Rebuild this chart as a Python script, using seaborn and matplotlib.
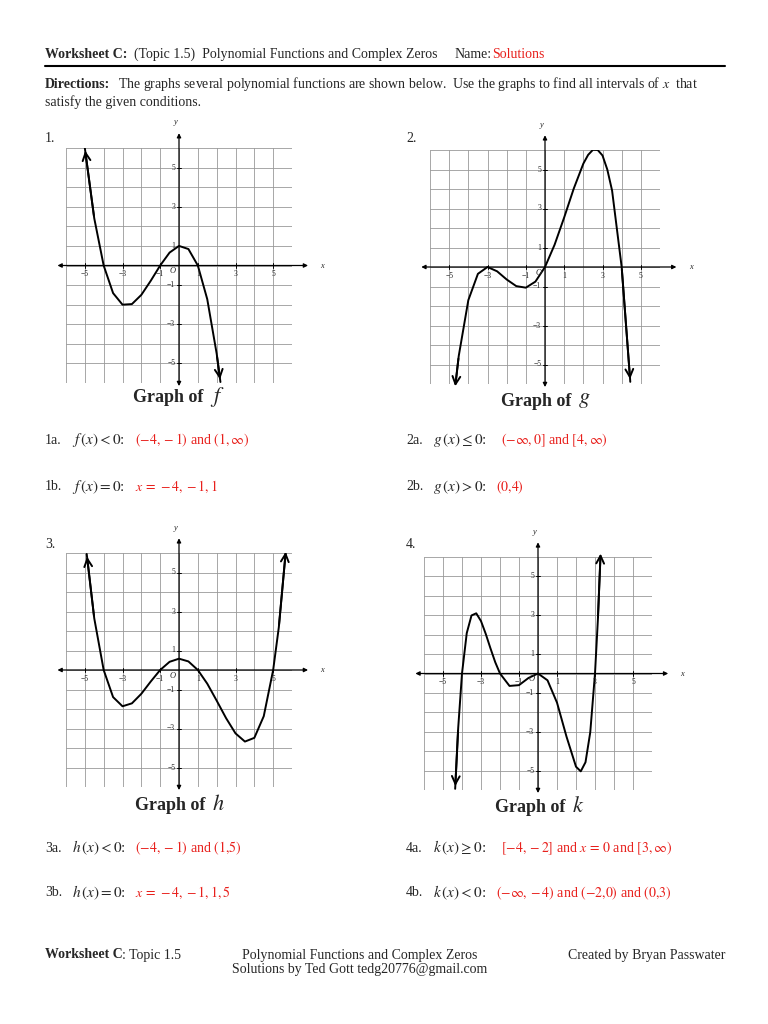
import matplotlib
matplotlib.use("Agg")
import matplotlib.pyplot as plt
import seaborn as sns
import numpy as np

sns.set_style("white")
plt.rcParams['font.family'] = ['Liberation Serif', 'DejaVu Serif']
plt.rcParams['mathtext.fontset'] = 'stix'

# data
f_x = [-5, -4.5, -4, -3.5, -3, -2.5, -2, -1.5, -1, -0.5, 0, 0.5, 1, 1.5, 2, 2.2]
f_y = [6, 2.41, 0, -1.41, -2, -1.97, -1.5, -0.78, 0, 0.66, 1, 0.84, 0, -1.72, -4.5, -5.95]
g_x = [-4.7, -4.5, -4, -3.5, -3, -2.5, -2, -1.5, -1, -0.5, 0, 0.5, 1, 1.5, 2, 2.25, 2.5, 2.75, 3, 3.25, 3.5, 4, 4.45]
g_y = [-6.26, -4.56, -1.7, -0.35, 0, -0.22, -0.64, -0.98, -1.06, -0.75, 0, 1.14, 2.54, 4.02, 5.3, 5.75, 6.01, 6.0, 5.72, 5.0, 3.92, 0, -5.89]
h_x = [-4.9, -4.5, -4, -3.5, -3, -2.5, -2, -1.5, -1, -0.5, 0, 0.5, 1, 1.5, 2, 2.5, 3, 3.5, 4, 4.5, 5, 5.3, 5.68]
h_y = [5.95, 2.65, 0, -1.39, -1.86, -1.71, -1.22, -0.59, 0, 0.42, 0.58, 0.44, 0, -0.7, -1.57, -2.47, -3.25, -3.67, -3.48, -2.37, 0, 2.19, 6.2]
k_x = [-4.36, -4.2, -4, -3.75, -3.5, -3.25, -3, -2.75, -2.5, -2.25, -2, -1.5, -1, -0.5, 0, 0.5, 1, 1.5, 2, 2.25, 2.5, 2.75, 3, 3.15, 3.3]
k_y = [-5.94, -2.8, 0, 2.08, 2.99, 3.1, 2.7, 2.04, 1.29, 0.58, 0, -0.64, -0.6, -0.23, 0, -0.35, -1.5, -3.25, -4.8, -5.04, -4.57, -3.03, 0, 2.74, 6.32]
tick_vals = [-5, -3, -1, 1, 3, 5]
tick_labels = ['−5', '−3', '−1', '1', '3', '5']

W, H = 768, 1024
fig = plt.figure(figsize=(7.68, 10.24), dpi=100)

def T(x, y, s, **kw):
    kw.setdefault('fontsize', 9)
    kw.setdefault('va', 'center')
    fig.text(x / W, 1 - y / H, s, **kw)

def graph(box, xs, ys, name, label_xy):
    x0, y0, x1, y1 = box
    ax = fig.add_axes([x0 / W, 1 - y1 / H, (x1 - x0) / W, (y1 - y0) / H])
    ax.set_xlim(-6, 6); ax.set_ylim(-6, 6)
    for v in range(-6, 7):
        ax.axvline(v, color='#999999', lw=0.6, zorder=0)
        ax.axhline(v, color='#999999', lw=0.6, zorder=0)
    ax.set_xticks([]); ax.set_yticks([])
    for s in ax.spines.values():
        s.set_visible(False)
    ax.annotate('', xy=(7, 0), xytext=(-6.6, 0), annotation_clip=False,
                arrowprops=dict(arrowstyle='<|-|>', lw=0.9, color='black', mutation_scale=6))
    ax.annotate('', xy=(0, 6.9), xytext=(0, -6.3), annotation_clip=False,
                arrowprops=dict(arrowstyle='<|-|>', lw=0.9, color='black', mutation_scale=6))
    ax.text(7.5, 0, 'x', style='italic', fontsize=6, va='center')
    ax.text(-0.2, 7.2, 'y', style='italic', fontsize=6, ha='center')
    for v, l in zip(tick_vals, tick_labels):
        ax.plot([v, v], [-0.12, 0.12], color='black', lw=0.7)
        ax.plot([-0.12, 0.12], [v, v], color='black', lw=0.7)
        ax.text(v, -0.45, l, fontsize=5.5, ha='center', va='center')
        ax.text(-0.2, v, l, fontsize=5.5, ha='right', va='center')
    ax.text(-0.35, -0.3, 'O', style='italic', fontsize=6, ha='center', va='center')
    sns.lineplot(x=xs, y=ys, sort=False, color='black', lw=1.4, ax=ax, estimator=None)
    for a, b in [(1, 0), (-2, -1)]:
        ax.annotate('', xy=(xs[b], ys[b]), xytext=(xs[a], ys[a]), annotation_clip=False,
                    arrowprops=dict(arrowstyle='->', lw=1.4, color='black', mutation_scale=14))
    T(label_xy[0], label_xy[1], 'Graph of ', fontsize=13, fontweight='bold', ha='right')
    T(label_xy[0] + 2, label_xy[1] - 1, name, fontsize=16, style='italic', ha='left')
    return ax

graph((66, 148, 292, 383), f_x, f_y, '$f$', (208, 398))
graph((430, 150, 660, 384), g_x, g_y, '$g$', (576, 401))
graph((66, 553, 292, 787), h_x, h_y, '$h$', (210, 806))
graph((424, 557, 652, 790), k_x, k_y, '$k$', (570, 808))

red = '#e8201c'
T(45, 54, 'Worksheet C:', fontweight='bold', fontsize=10)
T(134, 54, '(Topic 1.5)  Polynomial Functions and Complex Zeros', fontsize=10)
T(455, 54, 'Name:', fontsize=10)
T(492, 54, 'Solutions', fontsize=10, color=red)
fig.add_artist(plt.Line2D([45 / W, 725 / W], [1 - 66 / H, 1 - 66 / H], color='black', lw=1.5))
T(45, 84, 'Directions:', fontweight='bold', fontsize=10)
T(118, 84, 'The graphs several polynomial functions are shown below.  Use the graphs to find all intervals of $x$  that', fontsize=10)
T(45, 102, 'satisfy the given conditions.', fontsize=10)
T(45, 139, '1.', fontsize=10); T(406, 139, '2.', fontsize=10)
T(45, 545, '3.', fontsize=10); T(406, 545, '4.', fontsize=10)

rows = [
    (45, 440, '1a.', '$f\\,(x)<0$:', '$(-4,-1)$ and $(1,\\infty)$'),
    (45, 487, '1b.', '$f\\,(x)=0$:', '$x\\,=\\,-4,-1,1$'),
    (406, 440, '2a.', '$g\\,(x)\\leq 0$:', '$(-\\infty,0]$ and $[4,\\infty)$'),
    (406, 487, '2b.', '$g\\,(x)>0$:', '$(0{,}4)$'),
    (45, 848, '3a.', '$h\\,(x)<0$:', '$(-4,-1)$ and $(1{,}5)$'),
    (45, 893, '3b.', '$h\\,(x)=0$:', '$x\\,=\\,-4,-1,1,5$'),
    (406, 848, '4a.', '$k\\,(x)\\geq 0$:', '$[-4,-2]$ and $x\\,=\\,0$ and $[3,\\infty)$'),
    (406, 893, '4b.', '$k\\,(x)<0$:', '$(-\\infty,-4)$ and $(-2{,}0)$ and $(0{,}3)$'),
]
for x, y, n, cond, ans in rows:
    T(x, y, n, fontsize=10)
    T(x + 27, y, cond, fontsize=11)
    T(x + 95 if 'leq' in cond or 'geq' in cond else x + 90, y, ans, fontsize=10, color=red)

T(45, 955, 'Worksheet C', fontweight='bold', fontsize=10)
T(122, 955, ': Topic 1.5', fontsize=10)
T(360, 955, 'Polynomial Functions and Complex Zeros', fontsize=10, ha='center')
T(360, 970, 'Solutions by Ted Gott tedg20776@gmail.com', fontsize=10, ha='center')
T(725, 955, 'Created by Bryan Passwater', fontsize=10, ha='right')

fig.savefig('out.png', dpi=100)
